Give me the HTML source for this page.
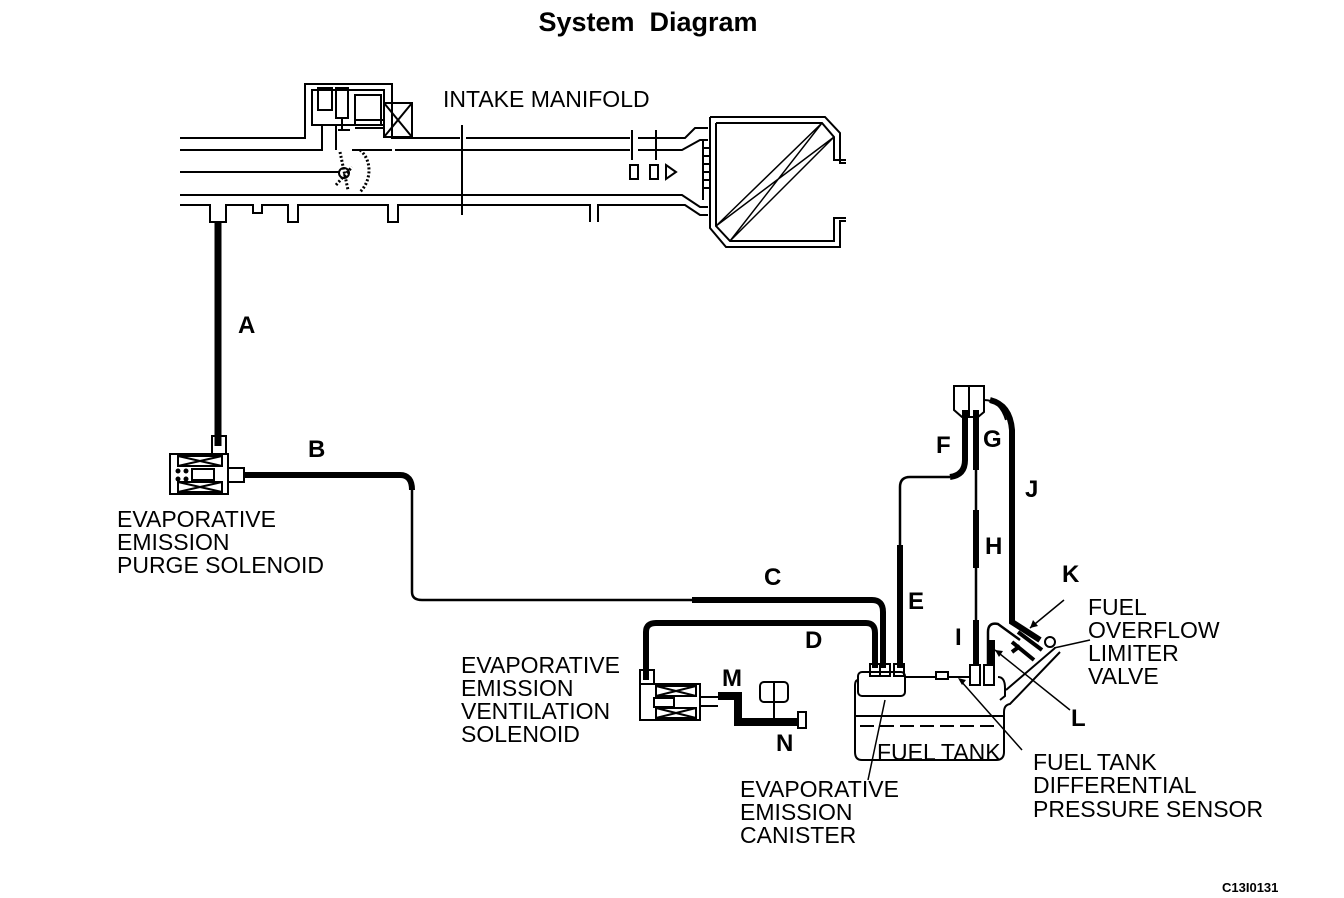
<!DOCTYPE html>
<html><head><meta charset="utf-8"><style>
html,body{margin:0;padding:0;background:#fff;}
svg{display:block}
text{font-family:"Liberation Sans",Arial,sans-serif;fill:#000}
.l{font-size:23px}
.b{font-size:24px;font-weight:bold}
</style></head><body>
<svg width="1344" height="898" viewBox="0 0 1344 898" xmlns="http://www.w3.org/2000/svg">
<text x="648" y="31" text-anchor="middle" font-size="27" font-weight="bold" xml:space="preserve">System  Diagram</text>
<g fill="none" stroke="#000" stroke-width="2">
<!-- manifold walls -->
<path d="M180 138 H305 V84 H392 V138 H410 M410 138 H460 M466 138 H630 M638 138 H685 L695 128 H708"/>
<path d="M180 150 H322 V125 H336 V150 M352 150 H392 M395 150 H630 M638 150 H682 L700 140 H708"/>
<rect x="312" y="90" width="72" height="35"/>
<rect x="355" y="95" width="26" height="30"/>
<rect x="384" y="103" width="28" height="34"/>
<path d="M384 103 L412 137 M412 103 L384 137"/>
<rect x="318" y="88" width="14" height="22"/>
<rect x="336" y="88" width="12" height="30"/>
<path d="M342 118 V130 M338 130 H350 M355 120 H383 M355 128 H383"/>
<path d="M180 172 H340"/>
<path d="M340 152 L348 190 M336 185 L352 167 M360 150 C372 160 372 180 360 192" stroke-dasharray="2 2" stroke-width="3"/>
<circle cx="344" cy="173" r="5"/>
<path d="M180 195 H682 L700 207 H708 M180 205 H210 V222 H226 V205 H253 V213 H262 V205 H288 V222 H298 V205 H388 V222 H398 V205 H590 V222 M598 222 V205 H685 L700 215 H708"/>
<path d="M462 125 V215 M632 130 V160 M656 130 V160"/>
<rect x="630" y="165" width="8" height="14"/>
<rect x="650" y="165" width="8" height="14"/>
<path d="M666 165 L676 172 L666 179 Z"/>
<path d="M703 140 V200 M710 140 V200"/>
<path d="M703 148 H710 M703 156 H710 M703 164 H710 M703 172 H710 M703 180 H710 M703 188 H710"/>
<path d="M710 117 H825 L840 133 V163 H846 M716 123 H822 L834 137 V160 H846"/>
<path d="M710 117 V228 L726 247 H840 V221 H846 M716 123 V226 L730 241 H834 V218 H846"/>
<path d="M716 226 L822 123 M730 241 L834 137 M716 226 L834 137 M730 241 L822 123" stroke-width="1.5"/>
</g>
<path d="M218 222 V446" stroke="#000" stroke-width="7" fill="none"/>
<g fill="none" stroke="#000" stroke-width="2">
<rect x="212" y="436" width="14" height="18"/>
<rect x="170" y="454" width="58" height="40"/>
<rect x="178" y="456" width="44" height="10"/><path d="M178 456 L222 466 M222 456 L178 466"/>
<rect x="178" y="482" width="44" height="10"/><path d="M178 482 L222 492 M222 482 L178 492"/>
<rect x="192" y="469" width="22" height="11"/>
<rect x="228" y="468" width="16" height="14"/>
</g>
<circle cx="178" cy="471" r="2.5"/><circle cx="186" cy="471" r="2.5"/><circle cx="178" cy="479" r="2.5"/><circle cx="186" cy="479" r="2.5"/>
<g fill="none" stroke="#000" stroke-linecap="butt">
<path d="M244 475 H400 Q412 475 412 490" stroke-width="6"/>
<path d="M412 490 V592 Q412 600 422 600 H692" stroke-width="2.5"/>
<path d="M692 600 H872 Q883 600 883 612 V668" stroke-width="6"/>
<path d="M646 680 V632 Q646 623 656 623 H866 Q875 623 875 633 V668" stroke-width="6"/>
<path d="M900 668 V545" stroke-width="6"/>
<path d="M900 545 V487 Q900 477 910 477 H950" stroke-width="2.5"/>
<path d="M950 477 Q965 475 965 460 V410" stroke-width="6"/>
<path d="M976 410 V470 M976 510 V568 M976 620 V668" stroke-width="6"/>
<path d="M976 470 V510 M976 568 V620" stroke-width="2.5"/>
<path d="M990 400 Q1010 405 1012 430 V622 L1040 640" stroke-width="6"/>
<path d="M988 668 V632 Q988 622 998 624 L1020 640" stroke-width="2.5"/>
<path d="M992 640 V670" stroke-width="6"/>
</g>
<g fill="none" stroke="#000" stroke-width="2">
<path d="M954 386 H984 V412 L978 417 H962 L954 410 Z"/>
<path d="M969 386 V417 M984 400 Q1000 400 1006 420"/>
<rect x="858" y="672" width="47" height="24" rx="4"/>
<rect x="870" y="664" width="10" height="12"/><rect x="880" y="664" width="10" height="12"/><rect x="894" y="664" width="10" height="12"/>
<path d="M905 677 H970 M998 677 Q1005 677 1005 688 V696 L1000 700 M1055 648 L1006 690 M1060 652 L1010 704 Q1004 705 1004 712 V752 Q1004 760 996 760 H862 Q855 760 855 752 V686 Q855 680 858 680"/>
<path d="M855 716 H1004"/>
<path d="M860 726 H1000" stroke-dasharray="14 6"/>
<rect x="936" y="672" width="12" height="7" fill="#fff"/>
<rect x="970" y="665" width="10" height="20" fill="#fff"/><rect x="984" y="665" width="10" height="20" fill="#fff"/>
<path d="M1018 632 L1042 650 M1012 642 L1034 660 M1020 646 L1012 652" stroke-width="4"/>
<circle cx="1050" cy="642" r="5"/>
<path d="M1064 600 L1030 628 M1090 640 L1054 648 M1070 710 L995 650 M960 680 L1022 750 M885 700 L868 780" stroke-width="1.5"/>
</g>
<path d="M1030 628 l3 -8 l5 6 z M995 650 l8 1 l-4 6 z M958 678 l8 2 l-4 5 z"/>
<g fill="none" stroke="#000" stroke-width="2">
<rect x="640" y="670" width="14" height="14"/>
<rect x="640" y="684" width="60" height="36"/>
<rect x="656" y="686" width="40" height="10"/><path d="M656 686 L696 696 M696 686 L656 696"/>
<rect x="656" y="708" width="40" height="10"/><path d="M656 708 L696 718 M696 708 L656 718"/>
<rect x="654" y="698" width="20" height="9"/>
<path d="M700 697 H718 M700 706 H718"/>
<rect x="760" y="682" width="28" height="20" rx="4"/>
<path d="M774 682 V720"/>
<rect x="798" y="712" width="8" height="16"/>
</g>
<path d="M718 696 H738 V722 H798" stroke="#000" stroke-width="8" fill="none"/>
<text class="b" x="238" y="333">A</text>
<text class="b" x="308" y="457">B</text>
<text class="b" x="764" y="585">C</text>
<text class="b" x="805" y="648">D</text>
<text class="b" x="908" y="609">E</text>
<text class="b" x="936" y="453">F</text>
<text class="b" x="983" y="447">G</text>
<text class="b" x="985" y="554">H</text>
<text class="b" x="955" y="645">I</text>
<text class="b" x="1025" y="497">J</text>
<text class="b" x="1062" y="582">K</text>
<text class="b" x="1071" y="726">L</text>
<text class="b" x="722" y="686">M</text>
<text class="b" x="776" y="751">N</text>
<text class="l" x="443" y="107">INTAKE MANIFOLD</text>
<text class="l" x="117" y="527">EVAPORATIVE</text>
<text class="l" x="117" y="550">EMISSION</text>
<text class="l" x="117" y="573">PURGE SOLENOID</text>
<text class="l" x="461" y="673">EVAPORATIVE</text>
<text class="l" x="461" y="696">EMISSION</text>
<text class="l" x="461" y="719">VENTILATION</text>
<text class="l" x="461" y="742">SOLENOID</text>
<text class="l" x="740" y="797">EVAPORATIVE</text>
<text class="l" x="740" y="820">EMISSION</text>
<text class="l" x="740" y="843">CANISTER</text>
<text class="l" x="877" y="760">FUEL TANK</text>
<text class="l" x="1088" y="615">FUEL</text>
<text class="l" x="1088" y="638">OVERFLOW</text>
<text class="l" x="1088" y="661">LIMITER</text>
<text class="l" x="1088" y="684">VALVE</text>
<text class="l" x="1033" y="770">FUEL TANK</text>
<text class="l" x="1033" y="793">DIFFERENTIAL</text>
<text class="l" x="1033" y="817">PRESSURE SENSOR</text>
<text x="1222" y="892" font-size="13" font-weight="bold">C13I0131</text>
</svg>
</body></html>
